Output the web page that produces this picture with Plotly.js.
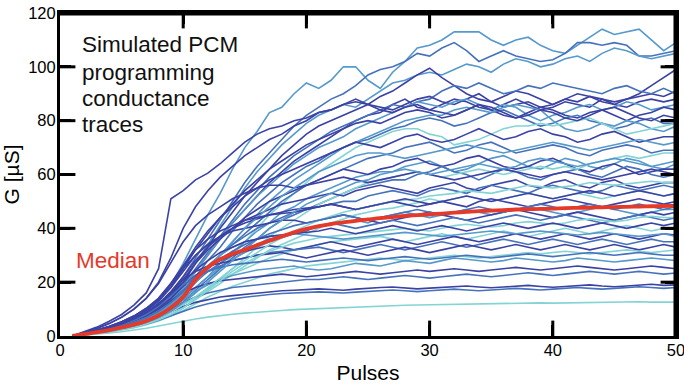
<!DOCTYPE html>
<html>
<head>
<meta charset="utf-8">
<script src="https://cdn.plot.ly/plotly-3.0.1.min.js"></script>
<style>html,body{margin:0;padding:0;background:#fff;}#chart{width:684px;height:384px;}</style>
</head>
<body>
<div id="chart"></div>
<script>
const pulses = [1,2,3,4,5,6,7,8,9,10,11,12,13,14,15,16,17,18,19,20,21,22,23,24,25,26,27,28,29,30,31,32,33,34,35,36,37,38,39,40,41,42,43,44,45,46,47,48,49,50];

const g01 = [0,0.8,1.8,3,4.5,6.5,9,13,19,27, 36,45,53,62,70,76,83,85,90,94, 92,95,100,100,95,92,98,102,107,108, 110,113,113,113,110,108,110,111,108,106, 105,108,111,114,112,113,114,110,106,109];
const g02 = [0,0.8,1.9,3.1,4.7,6.4,8.8,12,16,22, 29,36,43,50,57,63,68,73,78,82, 85,88,90,93,97,99,100,102,105,104, 107,109,106,102,104,106,104,103,102,102.6, 105,109,109,108,109,108,104,104,105,106];
const g03 = [0,0.6,1.4,2.4,3.6,5,7,10,14,20, 27,34,41,48,55,61,66,71,75,79, 82,84,86,85,88,91,94,95,97,98, 97,99,101,100,98,101,103,102,100,101, 103,104,102,105,107,106,104,103,104,105];
const g04 = [0,0.7,1.5,2.6,3.9,5.3,7.3,9.9,13.3,18, 24,30,36,42,47,52,57,61,65,68, 71,74,77,80,82,83,86,88,85,84, 86,88,87,85,84,86,88,86,84,85, 87,86,85,88,87,88,90,93,96,99];
const g05 = [0,0.8,1.7,2.9,4.3,6,8.2,11,15,20, 27,33,40,46,52,57,62,67,71,75, 78,80,82,84,86,89,91,94,97,99.5, 96,93,90,88,87,89,91,90,88,86, 88,90,89,87,86,88,89,90,89,91];
const g06 = [0,0.7,1.6,2.7,4,5.6,7.6,10.3,14,19, 25,31,37,43,49,54,59,63,67,70, 73,76,78,80,82,84,86,85,87,88, 91,93,92,94,92,90,91,93,92,94, 93,92,91,90,92,93,91,90,92,90];
const g07 = [0,1.4,2.9,4.7,7,10,14,20,29,40, 48,54,59,63,67,70,73,75,78,80, 83,84,86,87,86,85,84,86,88,89, 87,86,88,90,87,85,86,87,85,86, 88,87,89,88,86,85,87,88,87,88];
const g08 = [0,0.7,1.5,2.5,3.8,5.3,7.2,9.8,13,18, 24,30,36,42,47,52,56,60,64,67, 70,72,74,77,79,81,83,85,87,86, 85,87,88,86,84,86,85,82,80,82, 83,85,86,84,85,87,86,84,85,86];
const g09 = [0,1,2.1,3.4,5,7,9.5,13,18,25, 32,38,44,49,54,58,62,65,68,71, 73,75,77,79,80,79,81,83,84,83, 81,82,84,86,84,82,81,83,85,84, 82,81,83,84,82,80,82,83,85,84];
const g10 = [0,0.6,1.4,2.4,3.6,5,6.8,9.2,12.4,17, 22,28,33,39,44,49,53,57,60,63, 65,68,70,72,73,75,77,78,80,81, 80,78,79,81,83,84,82,80,78,79, 81,82,80,79,77,78,80,81,79,79];
const g11 = [0,0.6,1.3,2.2,3.3,4.6,6.3,8.6,11.5,15.5, 20,25,30,35,40,45,50,54,58,61, 64,67,70,72,74,76,78,80,81,82, 82,84,85,84,83,85,86,85,84,80, 77,76,77,79,78,80,79,77,76,78];
const g12 = [0,0.5,1.1,1.9,2.8,3.9,5.3,7.1,9.5,12.5, 16,20,25,30,35,40,45,49,53,57, 61,64,67,70,72,74,76,77,77,75, 74,71,72,73,75,77,78,78,79,78, 79,80,81,79,77,75,76,77,78,79];
const g13 = [0,1,2.1,3.5,5.2,7.4,10.3,14,19.5,26, 33,39,44,48,52,55,58,60,62,64, 66,68,70,72,71,70,72,74,75,73, 72,73,75,77,75,73,74,76,77,75, 74,72,73,75,76,74,72,73,74,74];
const g14 = [0,0.6,1.3,2.1,3.2,4.4,6,8,11,15, 20,25,30,34,38,42,46,50,53,56, 58,60,62,64,66,67,68,70,71,72, 70,68,69,71,72,70,68,69,70,71, 70,68,67,69,70,71,70,68,69,69];
const g15 = [0,1.6,3.3,5.5,8,11.5,16,25,51,54, 58,60.5,64,68,72,75,77,78,80,81, 83,84,86,88,86,84,83,85,86,84, 83,82,84,86,85,83,81,82,84,83, 81,80,82,84,85,83,81,80,82,81];
const g16 = [0,0.5,1.1,1.9,2.9,4,5.4,7.4,9.9,13.4, 18,22,27,31,35,39,42,46,48,51, 53,55,57,59,60,61,61,63,64,65, 63,61,62,64,66,67,65,63,62,64, 66,65,63,62,64,66,65,63,62,64];
const g17 = [0,0.9,1.9,3.1,4.6,6.4,8.7,12,16,21, 27,32,36,40,44,47,50,52,54,56, 58,60,62,61,60,62,63,65,66,64, 63,64,66,67,65,63,62,63,65,66, 64,62,61,63,64,62,60,61,62,62];
const g18 = [0,0.5,1.1,1.8,2.7,3.7,5.1,6.9,9.3,12.6, 17,21,25,29,33,36,40,43,45,47, 49,51,53,55,56,57,58,58,60,61, 63,61,60,58,60,62,61,59,58,60, 61,62,60,59,61,63,62,60,59,60];
const g19 = [0,0.4,0.9,1.5,2.3,3.2,4.3,5.8,7.8,10.4, 14,17.5,21,25,29,33,37,40,43,46, 49,51,53,55,57,58,59,60,61,60, 59,60,61,62,61,60,61,62,63,62, 63,62,64,65,66,67,66,67,68,68];
const g20 = [0,0.9,1.9,3.1,4.6,6.4,8.8,12,16.5,22, 28,33,37,40,43,45,47,49,50,51, 52,53,52,54,55,56,55,54,53,55, 56,57,55,54,56,57,58,56,55,57, 58,56,55,57,58,56,55,56,57,57];
const g21 = [0,0.7,1.5,2.5,3.7,5.1,7,9.5,13,17, 22,26,30,34,37,40,42,44,46,47, 48,49,50,50,52,53,54,53,52,54, 55,54,53,55,56,55,54,53,55,56, 55,54,53,54,56,55,54,55,56,55];
const g22 = [0,0.5,1,1.7,2.5,3.4,4.6,6,8,10.5, 13.5,16.5,19.5,23,26,29,32,34,36,38, 40,42,43.5,45,46,47,47.5,48.5,49.5,51, 50,51,52,51,50,51,52,53,52,51, 52,53,52,51,52,53,54,53,52,53];
const g23 = [0,1,2.1,3.4,5,7,9.6,13,18,24, 30,34,37,40,42,43.5,45,45.5,46,47, 48,49,48,47,48,49,50,49,48,49, 50,49,48,50,51,50,49,48,49,50, 51,50,49,48,49,50,51,50,49,50];
const g24 = [0,0.6,1.3,2.1,3.1,4.3,5.9,8,10.8,14, 18,22,25.5,28.5,31,33,35,36.5,38,39.5, 40.5,41.5,42.5,43,42,44,45,46,45,44, 45,46,47,46,45,46,47,48,47,46, 45,46,47,48,47,46,45,46,47,47];
const g25 = [0,1,2.2,3.6,5.3,7.4,10,13.5,19,25, 30,34,37,39,40,41,42,43,43,42, 43,44,45,44,43,42,43,44,45,46, 45,44,43,44,45,46,47,46,45,44, 45,46,45,44,43,44,45,46,45,46];
const g26 = [0,0.7,1.5,2.4,3.5,4.9,6.7,9,12,16, 20,24,27,30,32,34,36,37,38,39, 41,42,41,40,41,42,43,42,41,42, 43,44,43,42,43,44,45,44,43,44, 45,44,43,42,43,44,45,44,43,44];
const g27 = [0,0.5,1,1.7,2.5,3.5,4.8,6.5,8.8,11.5, 14.5,17.5,20.5,23,25,27,29,30.5,32,33, 34,35,35.5,36,36.5,37,36,35,36,37, 38,37,36,37,38,39,38,37,38,39, 40,39,38,39,40,41,40,39,40,40];
const g28 = [0,0.8,1.7,2.8,4.1,5.7,7.8,10.5,14,18.5, 22.5,25.5,28,30,31.5,32.5,33.5,33,32,33, 34,35,34,33,34,35,36,35,34,35, 36,37,36,35,36,37,38,37,36,37, 38,37,36,37,38,37,36,37,38,37.5];
const g29 = [0,0.7,1.5,2.5,3.7,5.2,7,9.5,13,17, 21,24,26,28,29,30,31,31.5,32,32.5, 33,32,31,32,33,34,33,32,33,34, 35,34,33,34,35,36,35,34,35,36, 35,34,35,36,35,34,35,36,35,35];
const g30 = [0,0.9,1.9,3.1,4.6,6.4,8.7,12,16,21, 24,26,27,28,29,30,30.5,31,30,29, 30,31,32,31,30,31,32,33,32,31, 32,33,34,33,32,33,34,33,32,33, 34,33,32,33,34,33,32,33,34,33];
const g31 = [0,0.4,0.9,1.5,2.2,3.1,4.2,5.6,7.4,9.5, 12,14.5,16.5,18.5,20,21.5,23,24,25,26, 26.5,27,27.5,28,28.5,29,28.5,28,28.5,29, 29.5,30,29.5,29,29.5,30,30.5,31,30.5,31, 31.5,31,30.5,31,31.5,32,31.5,31,31.5,32];
const g32 = [0,0.6,1.3,2.1,3.1,4.3,5.8,7.8,10.5,13.5, 16.5,19,21,22.5,23.5,24.5,25,25.5,26,25, 24.5,25,26,27,26.5,26,27,28,27.5,27, 28,29,28.5,28,27.5,28,29,28.5,28,27.5, 28,29,28.5,28,27.5,28,28.5,29,28.5,28];
const g33 = [0,0.8,1.7,2.7,4,5.5,7.5,10,13,16, 18,19.5,20.5,21,21.5,22,22.5,23,22.5,22, 22.5,23,23.5,24,23.5,23,23.5,24,24.5,24, 24.5,25,24.5,24,24.5,25,25.5,25,24.5,25, 25.5,26,25.5,25,24.5,25,25.5,26,25.5,25];
const g34 = [0,0.6,1.3,2.1,3.1,4.3,5.8,7.7,10,12.5, 14.5,16,17,18,18.5,19,19.5,20,20.5,21, 21,21.5,22,21.5,21,21.5,22,22.5,22,21.5, 22,22.5,23,22.5,22,22.5,23,23.5,23,22.5, 23,23.5,24,23.5,23,23.5,24,23.5,23,23.4];
const g35 = [0,0.6,1.2,2,2.9,4,5.3,7,9,11, 12.5,13.5,14.5,15,15.5,16,16.5,16.8,17,17.2, 17.5,17.3,17,17.4,17.8,18,18.2,17.8,17.5,17.8, 18,18.3,18.6,18.2,17.9,18.2,18.5,18.8,18.4,18.1, 18.4,18.7,19,18.6,18.3,18.6,18.9,19.2,18.8,19];
const g36 = [0,0.5,1,1.7,2.5,3.4,4.5,5.9,7.5,9.3, 10.8,12,13,13.8,14.4,15,15.4,15.8,16,16.2, 16.4,16.2,16,16.3,16.6,16.9,17.1,16.8,16.5,16.8, 17.1,17.4,17.1,16.8,17.1,17.4,17.7,17.4,17.1,17.4, 17.7,18,17.7,17.4,17.7,18,18.3,18,17.7,18];
const g37 = [0,0.3,0.7,1.1,1.6,2.2,2.9,3.7,4.6,5.5, 6.3,7,7.6,8.1,8.5,8.9,9.2,9.5,9.8,10, 10.2,10.4,10.6,10.8,11,11.1,11.2,11.4,11.5,11.6, 11.7,11.8,11.9,12,11.9,12,12.1,12.2,12.3,12.2, 12.3,12.4,12.5,12.4,12.5,12.6,12.7,12.6,12.5,12.6];
const g38 = [0,0.5,1.1,1.8,2.6,3.6,4.9,6.6,8.8,11.5, 14.5,18,21.5,25,28,31,34,36.5,39,41, 43,44.5,46,47,48,49,50,50.5,51,52, 52.5,53,54,53.5,53,54,55,56,55.5,55, 55.5,56,57,56.5,56,56.5,57,57.5,57,57];
const g39 = [0,0.5,1,1.6,2.4,3.3,4.5,6,8,10.5, 13.5,17,20.5,24,27,29.5,31.5,33,34.5,35.5, 36.5,37,37.5,38,38.5,39,39.5,40,39.5,39, 40,41,41.5,41,40.5,41,42,42.5,42,41.5, 42,43,43.5,43,42.5,43,44,44.5,44,44];
const g40 = [0,0.7,1.5,2.4,3.5,4.9,6.7,9,12,16, 21,26,30,33,35,36,37,37.5,38,37.5, 37,36.5,36,36.5,37,37.5,38,38.5,38,37.5, 37,37.5,38,38.5,39,38.5,38,38.5,39,38.5, 38,37.5,38,38.5,38,37.5,37,37.5,38,37];
const g41 = [0,1.3,2.8,4.6,6.9,10,14,19.5,27,35, 41,45,48,51,53,55,56,56,55,56, 57,58,59,58,57,58,59,60,61,60, 59,58,59,60,61,62,61,60,59,60, 61,60,59,58,59,60,61,62,61,60];
const g42 = [0,0.6,1.3,2.2,3.3,4.6,6.3,8.5,11.5,15.5, 20,25,30,35,40,44,48,52,55,58, 61,63,65,67,68,68,67,66,67,68, 69,70,71,70,69,68,69,70,71,72, 71,70,69,70,71,72,73,72,71,72];
const g43 = [0,1,2.1,3.5,5.2,7.4,10.2,14,19.5,26, 32,36,39,41,43,44,45,46,47,47.5, 48,49,48,47,48,49,50,51,50,49, 50,51,52,51,50,51,52,53,52,51, 52,53,54,53,52,53,54,53,52,53];
const g44 = [0,0.8,1.7,2.8,4.1,5.8,8,11,15,19, 22,24,25.5,26.5,27,27.5,28,28.5,28,27.5, 28,28.5,29,28.5,28,28.5,29,29.5,29,28.5, 29,29.5,30,29.5,29,29.5,30,30.5,30,29.5, 30,30.5,31,30.5,30,30.5,31,30.5,30,30];
const g45 = [0,0.5,1.1,1.8,2.7,3.7,5,6.8,9.2,12.3, 16,20,24,28,32,36,40,43,46,49, 51,53,55,57,58,60,61,62,61,60, 61,62,63,64,63,62,63,65,66,65, 64,63,64,65,66,65,64,63,64,65];
const g46 = [0,0.7,1.5,2.4,3.6,5,6.8,9.2,12.5,16.5, 21,25,28.5,31.5,34,36,38,39.5,41,42, 43,44,45,44,43,44,45,46,47,46, 45,46,47,48,47,46,47,48,49,48, 47,48,49,48,47,48,49,48,47,48];
const g47 = [0,0.9,1.9,3.1,4.5,6.3,8.6,11.6,15.5,20, 24.5,28,31,33,35,36,37,37.5,38,38.5, 39,40,39,38,39,40,41,40,39,40, 41,40,39,40,41,42,41,40,41,42, 41,40,41,42,41,40,41,42,41,42];

const median = [0,0.7,1.4,2.2,3.2,4.2,5.6,7.6,10.5,14.5, 21,25.5,28.5,30.5,32,33.8,35.4,37,38.5,39.8, 40.8,41.6,42.2,42.8,43.3,43.8,44.2,44.6,44.9,45.2, 45.5,45.8,46.1,46.4,46.6,46.8,47,47.1,47.2,47.3, 47.5,47.6,47.7,47.8,47.9,48,48.1,48.2,48.3,48.3];

// axis ranges and the inner tick positions of the boxed frame
const xRange = [0, 50];
const yRange = [0, 120];
const xInnerTicks = [10, 20, 30, 40];
const yInnerTicks = [20, 40, 60, 80, 100];

const DARK = '#3b42a4', MID = '#4672bb', LIGHT = '#5699cc', CYAN = '#84d4d5';
const traces = [g01,g02,g03,g04,g05,g06,g07,g08,g09,g10,g11,g12,g13,g14,g15,g16,g17,g18,g19,g20,g21,g22,g23,g24,g25,g26,g27,g28,g29,g30,g31,g32,g33,g34,g35,g36,g37,g38,g39,g40,g41,g42,g43,g44,g45,g46,g47];
const traceColors = [LIGHT,MID,LIGHT,DARK,DARK,MID,DARK,LIGHT,DARK,MID,LIGHT,CYAN,DARK,MID,DARK,LIGHT,DARK,MID,CYAN,DARK,MID,CYAN,DARK,LIGHT,DARK,MID,CYAN,DARK,MID,DARK,CYAN,LIGHT,DARK,MID,DARK,MID,CYAN,CYAN,CYAN,LIGHT,DARK,LIGHT,DARK,MID,LIGHT,MID,DARK];

const data = traces.map((ys, i) => ({
  x: pulses, y: ys, type: 'scatter', mode: 'lines',
  line: {color: traceColors[i], width: 1.6}, hoverinfo: 'skip'
}));
data.push({x: pulses, y: median, type: 'scatter', mode: 'lines',
  line: {color: '#e5392a', width: 3.8, shape: 'spline'}, hoverinfo: 'skip'});

// Frame: top and right edges (half of the stroke is clipped by the plot area)
data.push({x: [xRange[0], xRange[1], xRange[1]], y: [yRange[1], yRange[1], yRange[0]],
  type: 'scatter', mode: 'lines', line: {color: '#000', width: 5}, hoverinfo: 'skip'});
// Inward tick marks: line markers centred on each edge, clipped to the plot area
const tickMarker = (sym) => ({symbol: sym, size: 22, color: '#000', line: {width: 3, color: '#000'}});
data.push({x: xInnerTicks.concat(xInnerTicks), y: xInnerTicks.map(() => yRange[0]).concat(xInnerTicks.map(() => yRange[1])),
  type: 'scatter', mode: 'markers', marker: tickMarker('line-ns'), cliponaxis: true, hoverinfo: 'skip'});
data.push({x: yInnerTicks.map(() => xRange[0]).concat(yInnerTicks.map(() => xRange[1])), y: yInnerTicks.concat(yInnerTicks),
  type: 'scatter', mode: 'markers', marker: tickMarker('line-ew'), cliponaxis: true, hoverinfo: 'skip'});

const FONT = 'Liberation Sans, Arial, Helvetica, sans-serif';
const layout = {
  width: 684, height: 384,
  margin: {l: 60, r: 8, t: 13, b: 48},
  showlegend: false,
  font: {family: FONT, color: '#000', size: 16.5},
  xaxis: {
    range: xRange, gridcolor: 'rgba(0,0,0,0)', showline: true, linewidth: 3, linecolor: '#000',
    mirror: 'ticks', ticks: 'inside', ticklen: 11, tickwidth: 3, tickcolor: '#000',
    ticklabeloverflow: 'allow', ticklabelstandoff: -3,
    title: {text: 'Pulses', font: {size: 21}}
  },
  yaxis: {
    range: yRange, dtick: 20, gridcolor: 'rgba(0,0,0,0)', showline: true, linewidth: 3, linecolor: '#000',
    mirror: 'ticks', ticks: 'inside', ticklen: 11, tickwidth: 3, tickcolor: '#000',
    ticklabelstandoff: -2,
    title: {text: 'G [µS]', font: {size: 21}}
  },
  annotations: [
    {xref: 'paper', yref: 'paper', x: 0.033, y: 0.904, xanchor: 'left', yanchor: 'middle',
     text: 'Simulated PCM', showarrow: false, font: {size: 22.5, color: '#111'}},
    {xref: 'paper', yref: 'paper', x: 0.033, y: 0.816, xanchor: 'left', yanchor: 'middle',
     text: 'programming', showarrow: false, font: {size: 22.5, color: '#111'}},
    {xref: 'paper', yref: 'paper', x: 0.033, y: 0.735, xanchor: 'left', yanchor: 'middle',
     text: 'conductance', showarrow: false, font: {size: 22.5, color: '#111'}},
    {xref: 'paper', yref: 'paper', x: 0.033, y: 0.656, xanchor: 'left', yanchor: 'middle',
     text: 'traces', showarrow: false, font: {size: 22.5, color: '#111'}},
    {xref: 'x', yref: 'y', x: 1.1, y: 28, xanchor: 'left', yanchor: 'middle',
     text: 'Median', showarrow: false, font: {size: 22.5, color: '#e5392a'}}
  ]
};
Plotly.newPlot('chart', data, layout, {staticPlot: true});
</script>
</body>
</html>
